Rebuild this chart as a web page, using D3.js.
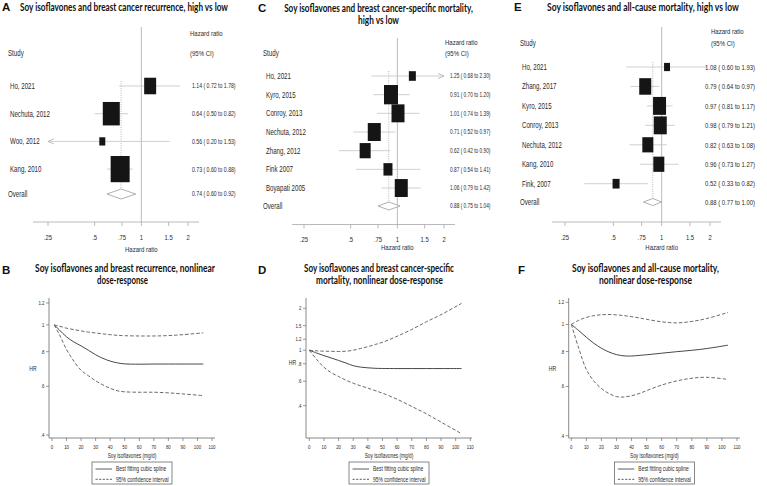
<!DOCTYPE html>
<html><head><meta charset="utf-8">
<script src="https://cdn.jsdelivr.net/npm/d3@7"></script>
<style>html,body{margin:0;padding:0;background:#fff;}svg{display:block;}</style>
</head><body>
<svg id="chart" width="767" height="486"></svg>
<script>
// ---------------- DATA ----------------
// Panel A: breast cancer recurrence, high vs low
const studiesA = ["Ho, 2021", "Nechuta, 2012", "Woo, 2012", "Kang, 2010"];
const hrA = [1.14, 0.64, 0.56, 0.73];
const loA = [0.72, 0.50, 0.20, 0.60];
const hiA = [1.78, 0.82, 1.53, 0.88];
const wtA = [17.3, 34.8, 4.3, 43.5];
const overallA = [0.74, 0.60, 0.92];
// Panel C: breast cancer-specific mortality, high vs low
const studiesC = ["Ho, 2021", "Kyro, 2015", "Conroy, 2013", "Nechuta, 2012", "Zhang, 2012", "Fink 2007", "Boyapati 2005"];
const hrC = [1.25, 0.91, 1.01, 0.71, 0.62, 0.87, 1.06];
const loC = [0.68, 0.70, 0.74, 0.52, 0.42, 0.54, 0.79];
const hiC = [2.30, 1.20, 1.39, 0.97, 0.90, 1.41, 1.42];
const wtC = [5.1, 20.5, 17.7, 17.7, 12.7, 8.5, 17.7];
const overallC = [0.88, 0.75, 1.04];
// Panel E: all-cause mortality, high vs low
const studiesE = ["Ho, 2021", "Zhang, 2017", "Kyro, 2015", "Conroy, 2013", "Nechuta, 2012", "Kang, 2010", "Fink, 2007"];
const hrE = [1.08, 0.79, 0.97, 0.98, 0.82, 0.96, 0.52];
const loE = [0.60, 0.64, 0.81, 0.79, 0.63, 0.73, 0.33];
const hiE = [1.93, 0.97, 1.17, 1.21, 1.08, 1.27, 0.82];
const wtE = [4.4, 17.8, 20.9, 20.9, 15.0, 15.0, 6.1];
const overallE = [0.88, 0.77, 1.00];
const forestTicks = [0.25, 0.5, 0.75, 1, 1.5, 2];
const forestTickLabels = [".25", ".5", ".75", "1", "1.5", "2"];

// Dose-response (soy isoflavones mg/d)
const doseB = [1.5, 5, 10, 15, 20, 25, 30, 35, 40, 45, 50, 60, 70, 80, 90, 104];
const fitB  = [1.0, 0.96, 0.905, 0.868, 0.84, 0.81, 0.78, 0.757, 0.74, 0.729, 0.723, 0.721, 0.722, 0.722, 0.722, 0.722];
const ucB   = [1.0, 0.99, 0.973, 0.962, 0.951, 0.942, 0.935, 0.928, 0.922, 0.917, 0.914, 0.912, 0.912, 0.915, 0.922, 0.936];
const lcB   = [1.0, 0.925, 0.815, 0.74, 0.685, 0.655, 0.628, 0.607, 0.59, 0.578, 0.573, 0.571, 0.571, 0.568, 0.563, 0.555];

const doseD = [0, 5, 10, 15, 20, 25, 30, 35, 40, 45, 50, 60, 70, 80, 90, 104];
const fitD  = [1.0, 0.955, 0.915, 0.88, 0.845, 0.81, 0.775, 0.757, 0.748, 0.742, 0.74, 0.739, 0.739, 0.739, 0.739, 0.739];
const ucD   = [1.0, 0.99, 0.985, 0.982, 0.98, 0.984, 1.0, 1.03, 1.06, 1.1, 1.14, 1.26, 1.41, 1.6, 1.8, 2.17];
const lcD   = [1.0, 0.86, 0.755, 0.69, 0.648, 0.61, 0.58, 0.556, 0.535, 0.513, 0.492, 0.445, 0.395, 0.35, 0.305, 0.252];

const doseF = [0, 5, 10, 15, 20, 25, 30, 35, 40, 45, 50, 60, 70, 80, 90, 104];
const fitF  = [1.0, 0.95, 0.9, 0.856, 0.822, 0.797, 0.78, 0.772, 0.771, 0.775, 0.779, 0.789, 0.799, 0.808, 0.82, 0.843];
const ucF   = [1.0, 1.035, 1.06, 1.075, 1.083, 1.085, 1.082, 1.075, 1.066, 1.055, 1.043, 1.022, 1.013, 1.025, 1.05, 1.104];
const lcF   = [1.0, 0.82, 0.69, 0.627, 0.59, 0.566, 0.552, 0.55, 0.556, 0.566, 0.58, 0.607, 0.628, 0.642, 0.647, 0.636];

const doseTicks = [0, 10, 20, 30, 40, 50, 60, 70, 80, 90, 100, 110];
const hrTicksBF = [0.4, 0.6, 0.8, 1, 1.2];
const hrTickLabelsBF = [".4", ".6", ".8", "1", "1.2"];
const hrTicksD = [0.4, 0.6, 0.8, 1, 1.2, 1.5, 2];
const hrTickLabelsD = [".4", ".6", ".8", "1", "1.2", "1.5", "2"];
const legendLabels = ["Best fitting cubic spline", "95% confidence interval"];

// ---------------- DRAWING ----------------
const svg = d3.select("#chart");
svg.append("rect").attr("width", 767).attr("height", 486).attr("fill", "#fff");
const FONT = "'Liberation Sans', Arial, sans-serif";
const SX = 0.75;

function txt(g, x, y, s, o = {}) {
  return g.append("text")
    .attr("transform", `translate(${x},${y}) scale(${o.sx ?? SX},1)`)
    .attr("text-anchor", o.anchor || "start")
    .attr("dy", o.dy ?? "0.35em")
    .attr("font-family", o.family || FONT)
    .attr("font-size", o.size || 8)
    .attr("font-weight", o.weight || "normal")
    .attr("fill", o.fill || "#2a2a2a")
    .text(s);
}
// title line: natural text horizontally scaled to the measured target width
function title(g, x, y, s, w, anchor) {
  const t = g.append("text")
    .attr("text-anchor", anchor || "middle")
    .attr("font-family", "Lato, 'Open Sans', sans-serif")
    .attr("font-weight", "bold")
    .attr("font-size", 9.8)
    .attr("fill", "#111")
    .text(s);
  const nat = t.node().getComputedTextLength();
  t.attr("transform", `translate(${x},${y}) scale(${w / nat},1.06)`);
  return t;
}
function letter(x, y, s) {
  svg.append("text").attr("x", x).attr("y", y)
    .attr("font-family", FONT).attr("font-weight", "bold")
    .attr("font-size", 11.5).attr("fill", "#111").text(s);
}

const fmt = v => v.toFixed(2);

function forest(cfg, studies, hr, lo, hi, wt, overall) {
  const g = svg.append("g");
  const x = d3.scaleLog().domain([0.25, 2]).range(cfg.range);
  const size = d3.scaleSqrt().domain([0, 100]).range([0, cfg.boxK * 10]);
  const rowY = i => cfg.row0 + i * cfg.step;

  // null line
  g.append("line").attr("x1", x(1)).attr("x2", x(1))
    .attr("y1", cfg.nullTop).attr("y2", cfg.axisY)
    .attr("stroke", "#a8a8a8").attr("stroke-width", 0.8);
  // overall dotted line
  g.append("line").attr("x1", x(overall[0])).attr("x2", x(overall[0]))
    .attr("y1", rowY(0) - 5).attr("y2", cfg.overallY - cfg.diamondH / 2)
    .attr("stroke", "#9a9a9a").attr("stroke-width", 0.7).attr("stroke-dasharray", "1,1.3");

  studies.forEach((s, i) => {
    const y = rowY(i);
    const l = Math.max(lo[i], 0.25), h = Math.min(hi[i], 2);
    g.append("line").attr("x1", x(l)).attr("x2", x(h)).attr("y1", y).attr("y2", y)
      .attr("stroke", "#c4c4c4").attr("stroke-width", 0.8);
    if (lo[i] < 0.25) {
      g.append("path").attr("d", `M${x(0.25) + 6},${y - 2.6}L${x(0.25)},${y}L${x(0.25) + 6},${y + 2.6}`)
        .attr("fill", "none").attr("stroke", "#b0b0b0").attr("stroke-width", 0.8);
    }
    if (hi[i] > 2) {
      g.append("path").attr("d", `M${x(2) - 6},${y - 2.6}L${x(2)},${y}L${x(2) - 6},${y + 2.6}`)
        .attr("fill", "none").attr("stroke", "#b0b0b0").attr("stroke-width", 0.8);
    }
    const bw = size(wt[i]), bh = bw * 1.38;
    g.append("rect").attr("x", x(hr[i]) - bw / 2).attr("y", y - bh / 2)
      .attr("width", bw).attr("height", bh).attr("fill", "#151515");
    txt(g, cfg.labelX, y, s, { size: 8.2 });
    txt(g, cfg.valueX, y, `${fmt(hr[i])} ( ${fmt(lo[i])} to ${fmt(hi[i])})`, { size: cfg.valueSize });
  });

  // overall diamond
  const oy = cfg.overallY, dh = cfg.diamondH / 2;
  g.append("path")
    .attr("d", `M${x(overall[1])},${oy}L${x(overall[0])},${oy - dh}L${x(overall[2])},${oy}L${x(overall[0])},${oy + dh}Z`)
    .attr("fill", "#fff").attr("stroke", "#9a9a9a").attr("stroke-width", 0.8);
  txt(g, cfg.studyX, oy, "Overall", { size: 8.2 });
  txt(g, cfg.valueX, oy, `${fmt(overall[0])} ( ${fmt(overall[1])} to ${fmt(overall[2])})`, { size: cfg.valueSize });

  // headers
  txt(g, cfg.studyX, cfg.studyY, "Study", { size: 8.2 });
  txt(g, cfg.hdrX, cfg.hdr1Y, "Hazard ratio", { size: 8 });
  txt(g, cfg.hdrX, cfg.hdr2Y, "(95% CI)", { size: 8 });

  // axis
  g.append("line").attr("x1", cfg.axisX[0]).attr("x2", cfg.axisX[1])
    .attr("y1", cfg.axisY).attr("y2", cfg.axisY).attr("stroke", "#a8a8a8").attr("stroke-width", 0.8);
  forestTicks.forEach((t, i) => {
    g.append("line").attr("x1", x(t)).attr("x2", x(t)).attr("y1", cfg.axisY).attr("y2", cfg.axisY + 4)
      .attr("stroke", "#a8a8a8").attr("stroke-width", 0.8);
    txt(g, x(t), cfg.axisY + 15, forestTickLabels[i], { size: 7.8, anchor: "middle" });
  });
  txt(g, x(1), cfg.xTitleY, "Hazard ratio", { size: 8, anchor: "middle" });
}

forest({ range: [48, 188], axisY: 222, axisX: [33, 199], row0: 86, step: 27.7, overallY: 194, diamondH: 10,
  labelX: 10, studyX: 8, valueX: 192, valueSize: 6.9, hdrX: 190, hdr1Y: 33, hdr2Y: 53, studyY: 53,
  nullTop: 27, boxK: 2.88, xTitleY: 249 }, studiesA, hrA, loA, hiA, wtA, overallA);
forest({ range: [304, 444], axisY: 224.5, axisX: [292, 455], row0: 76, step: 18.67, overallY: 206, diamondH: 8,
  labelX: 266, studyX: 263, valueX: 450, valueSize: 6.4, hdrX: 445, hdr1Y: 42, hdr2Y: 53, studyY: 53,
  nullTop: 38, boxK: 3.09, xTitleY: 247 }, studiesC, hrC, loC, hiC, wtC, overallC);
forest({ range: [565, 710], axisY: 222, axisX: [552, 721], row0: 67, step: 19.45, overallY: 202, diamondH: 7,
  labelX: 522, studyX: 520, valueX: 705, valueSize: 7.9, hdrX: 711, hdr1Y: 31, hdr2Y: 43, studyY: 43,
  nullTop: 27, boxK: 2.84, xTitleY: 247 }, studiesE, hrE, loE, hiE, wtE, overallE);

// Titles for forest panels
letter(2, 11, "A"); letter(258, 12, "C"); letter(514, 11, "E");
title(svg, 20, 11, "Soy isoflavones and breast cancer recurrence, high vs low", 208, "start");
title(svg, 378.5, 12, "Soy isoflavones and breast cancer-specific mortality,", 189);
title(svg, 378.5, 24, "high vs low", 41);
title(svg, 547, 11, "Soy isoflavones and all-cause mortality, high vs low", 192, "start");

// ---------------- Dose-response panels ----------------
function doseResp(cfg, dose, fit, lc, uc, yTicks, yLabels) {
  const g = svg.append("g");
  const x = d3.scaleLinear().domain([0, 110]).range(cfg.xRange);
  const y = d3.scaleLog().domain(cfg.yDomain).range(cfg.yRange);
  const ax = "#6a6a6a";
  g.append("line").attr("x1", cfg.yAxisX).attr("x2", cfg.yAxisX).attr("y1", cfg.top).attr("y2", cfg.bottom)
    .attr("stroke", ax).attr("stroke-width", 0.8);
  g.append("line").attr("x1", cfg.yAxisX).attr("x2", cfg.xEnd).attr("y1", cfg.bottom).attr("y2", cfg.bottom)
    .attr("stroke", ax).attr("stroke-width", 0.8);
  yTicks.forEach((t, i) => {
    g.append("line").attr("x1", cfg.yAxisX - 3).attr("x2", cfg.yAxisX).attr("y1", y(t)).attr("y2", y(t))
      .attr("stroke", ax).attr("stroke-width", 0.7);
    txt(g, cfg.yAxisX - 4.5, y(t), yLabels[i], { size: 5.8, anchor: "end" });
  });
  doseTicks.forEach(t => {
    g.append("line").attr("x1", x(t)).attr("x2", x(t)).attr("y1", cfg.bottom).attr("y2", cfg.bottom + 3)
      .attr("stroke", ax).attr("stroke-width", 0.7);
    txt(g, x(t), cfg.bottom + 8.7, String(t), { size: 5.8, anchor: "middle" });
  });
  const mid = (cfg.yAxisX + cfg.xEnd) / 2;
  txt(g, mid, cfg.bottom + 17.5, "Soy isoflavones (mg/d)", { size: 6.4, anchor: "middle" });
  txt(g, cfg.hrX, cfg.hrY, "HR", { size: 6.8, anchor: "middle" });

  const line = d3.line().x((d, i) => x(dose[i])).y(d => y(d)).curve(d3.curveCatmullRom.alpha(0.5));
  g.append("path").attr("d", line(fit)).attr("fill", "none").attr("stroke", "#333").attr("stroke-width", 0.9);
  [lc, uc].forEach(s => g.append("path").attr("d", line(s)).attr("fill", "none")
    .attr("stroke", "#444").attr("stroke-width", 0.8).attr("stroke-dasharray", "3.5,2"));

  // legend
  const lw = 80, lx = mid - lw / 2, ly = 462;
  g.append("rect").attr("x", lx).attr("y", ly).attr("width", lw).attr("height", 22)
    .attr("fill", "#fff").attr("stroke", "#555").attr("stroke-width", 0.7);
  [469, 479.3].forEach((yy, i) => {
    g.append("line").attr("x1", lx + 3.5).attr("x2", lx + 20).attr("y1", yy).attr("y2", yy)
      .attr("stroke", "#333").attr("stroke-width", 0.8).attr("stroke-dasharray", i ? "2.2,1.4" : null);
    txt(g, lx + 24, yy, legendLabels[i], { size: 6.6 });
  });
}

doseResp({ xRange: [52, 212], yDomain: [0.4, 1.2], yRange: [435, 303], yAxisX: 49, top: 298, bottom: 438, xEnd: 215,
  hrX: 33, hrY: 369 }, doseB, fitB, lcB, ucB, hrTicksBF, hrTickLabelsBF);
doseResp({ xRange: [309.3, 470.3], yDomain: [0.4, 2], yRange: [405.7, 308.3], yAxisX: 306, top: 298, bottom: 438, xEnd: 472,
  hrX: 292.5, hrY: 363 }, doseD, fitD, lcD, ucD, hrTicksD, hrTickLabelsD);
doseResp({ xRange: [571.3, 737], yDomain: [0.4, 1.2], yRange: [435.7, 302.3], yAxisX: 568.7, top: 298, bottom: 438, xEnd: 740,
  hrX: 552.5, hrY: 369 }, doseF, fitF, lcF, ucF, hrTicksBF, hrTickLabelsBF);

letter(2, 274, "B"); letter(258, 274, "D"); letter(518, 274, "F");
title(svg, 125, 272.3, "Soy isoflavones and breast recurrence, nonlinear", 180);
title(svg, 122.5, 284, "dose-response", 51);
title(svg, 379, 272.3, "Soy isoflavones and breast cancer-specific", 150);
title(svg, 379.5, 284, "mortality, nonlinear dose-response", 127);
title(svg, 645.5, 272.3, "Soy isoflavones and all-cause mortality,", 147);
title(svg, 645.5, 284, "nonlinear dose-response", 93);
</script>
</body></html>
